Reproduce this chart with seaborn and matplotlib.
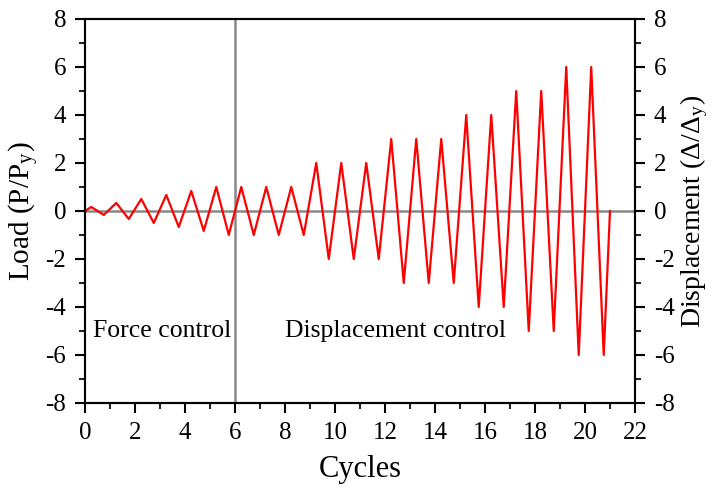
import numpy as np
import pandas as pd
import matplotlib as mpl
mpl.use('Agg')
import matplotlib.pyplot as plt
from matplotlib.ticker import MultipleLocator
import seaborn as sns

# loading protocol: amplitude per cycle (peak at +0.25, trough at +0.75)
force_amps = [1/6, 2/6, 3/6, 4/6, 5/6, 1.0]
disp_amps = [1, 1, 1, 2, 2, 2, 3, 3, 3, 4, 4, 5, 5, 6, 6]
switch_cycle = 6

amps = force_amps + disp_amps
cycles = [0.0]
load = [0.0]
for i, a in enumerate(amps):
    cycles += [i + 0.25, i + 0.75]
    load += [a, -a]
cycles.append(float(len(amps)))
load.append(0.0)
df = pd.DataFrame({"Cycles": cycles, "Load": load})

sns.set_theme(style="ticks")
plt.rcParams['font.family'] = 'serif'
plt.rcParams['font.serif'] = ['Liberation Serif', 'DejaVu Serif']
plt.rcParams['axes.unicode_minus'] = False
plt.rcParams['mathtext.fontset'] = 'stix'
plt.rcParams['text.color'] = 'black'
plt.rcParams['axes.labelcolor'] = 'black'

fig = plt.figure(figsize=(7.17, 4.92), dpi=100)
ax = fig.add_axes([0.1186, 0.181, 0.767, 0.7804])

ax.axhline(0, color='#888888', lw=1.8, zorder=1)
ax.axvline(switch_cycle, color='#888888', lw=1.8, zorder=1)
sns.lineplot(data=df, x="Cycles", y="Load", ax=ax, color='red', lw=1.6, zorder=2, sort=False)

ax.set_xlim(0, 22)
ax.set_ylim(-8, 8)
ax.xaxis.set_major_locator(MultipleLocator(2))
ax.xaxis.set_minor_locator(MultipleLocator(1))
ax.yaxis.set_major_locator(MultipleLocator(2))
ax.yaxis.set_minor_locator(MultipleLocator(1))
ax.set_xlabel("Cycles", fontsize=22, labelpad=8)
ax.set_ylabel("Load (P/P$_\\mathregular{y}$)", fontsize=21, labelpad=3)

ax2 = ax.twinx()
ax2.set_ylim(-8, 8)
ax2.yaxis.set_major_locator(MultipleLocator(2))
ax2.yaxis.set_minor_locator(MultipleLocator(1))
ax2.set_ylabel("Displacement (\u0394/\u0394$_\\mathregular{y}$)", fontsize=20, labelpad=3)

for a in (ax, ax2):
    for s in a.spines.values():
        s.set_linewidth(1.5)
        s.set_color('black')
        s.set_visible(True)
    a.tick_params(which='major', direction='out', length=7.5, width=1.5, labelsize=18,
                  colors='black', pad=6)
    a.tick_params(which='minor', direction='out', length=4, width=1.5)

ax.text(0.3, -5.0, "Force control", fontsize=18.5, va='center', ha='left')
ax.text(8.0, -5.0, "Displacement control", fontsize=18.5, va='center', ha='left')

plt.savefig("out.png", dpi=100)
plt.close()
